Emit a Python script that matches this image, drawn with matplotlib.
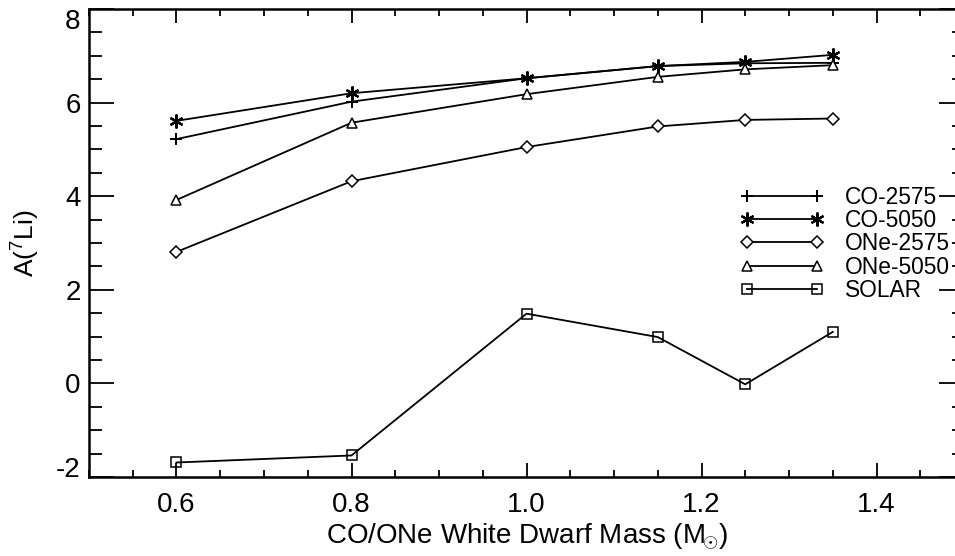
import numpy as np
import matplotlib
matplotlib.use('Agg')
import matplotlib.pyplot as plt
from matplotlib.ticker import MultipleLocator

plt.rcParams['font.family'] = ['Liberation Sans', 'DejaVu Sans']
plt.rcParams['mathtext.fontset'] = 'custom'
plt.rcParams['mathtext.rm'] = 'Liberation Sans'

# white dwarf masses
mass = [0.6, 0.8, 1.0, 1.15, 1.25, 1.35]

# A(7Li) for each model
co_2575 = [5.22, 6.02, 6.52, 6.78, 6.84, 6.85]
co_5050 = [5.61, 6.20, 6.52, 6.78, 6.87, 7.02]
one_2575 = [2.81, 4.32, 5.05, 5.49, 5.63, 5.66]
one_5050 = [3.92, 5.57, 6.18, 6.55, 6.71, 6.80]
solar = [-1.69, -1.54, 1.49, 0.99, -0.02, 1.10]

labels = ['CO-2575', 'CO-5050', 'ONe-2575', 'ONe-5050', 'SOLAR']

W, H = 955, 556
fig = plt.figure(figsize=(W/100, H/100), dpi=100)
# axes box runs past the right edge of the picture (as in the original)
ax = fig.add_axes([89/W, 1-477/H, 875/W, 468/H])

lw = 1.3
ms = 7
ax.plot(mass, co_2575, color='k', lw=lw, marker='+', ms=ms+2, mew=1.4, label=labels[0])
ax.plot(mass, co_5050, color='k', lw=lw, marker=(6, 2, 0), ms=ms+3, mew=1.6, label=labels[1])
ax.plot(mass, one_2575, color='k', lw=lw, marker='D', ms=ms-1, mfc='white', mew=1.1, label=labels[2])
ax.plot(mass, one_5050, color='k', lw=lw, marker='^', ms=ms, mfc='white', mew=1.1, label=labels[3])
ax.plot(mass, solar, color='k', lw=lw, marker='s', ms=ms, mfc='none', mew=1.1, label=labels[4])

ax.set_xlim(0.5, 1.5)
ax.set_ylim(-2, 8)
ax.xaxis.set_minor_locator(MultipleLocator(0.05))
ax.yaxis.set_minor_locator(MultipleLocator(0.5))
ax.set_xticks([0.6, 0.8, 1.0, 1.2, 1.4])
ax.set_xticklabels(['0.6', '0.8', '1.0', '1.2', '1.4'])
ax.set_yticks([-2, 0, 2, 4, 6, 8])
ax.set_yticklabels(['-2', '0', '2', '4', '6', '8'])

ax.tick_params(which='both', direction='in', top=True, right=True, color='k', labelsize=20)
ax.tick_params(axis='y', which='major', length=18, width=1.3, pad=6)
ax.tick_params(axis='y', which='minor', length=9, width=1.3)
ax.tick_params(axis='x', which='major', length=10, width=1.3, pad=11)
ax.tick_params(axis='x', which='minor', length=5, width=1.3)
for s in ax.spines.values():
    s.set_linewidth(1.8)
ax.spines['right'].set_visible(False)

# keep the end labels inside the box like IDL does
ylabs = ax.get_yticklabels()
ylabs[0].set_va('baseline')
ylabs[-1].set_va('top')

ax.set_xlabel(r'CO/ONe White Dwarf Mass (M$_{\!{\odot}}$)', fontsize=20, labelpad=2)
ax.set_ylabel(r'A($^7$Li)', fontsize=19, labelpad=11)

leg = ax.legend(loc='upper left', bbox_to_anchor=((740-89)/875, (477-186)/468),
                frameon=False, fontsize=16.4, numpoints=2, handlelength=3.7,
                handletextpad=0.92, labelspacing=0.01, borderpad=0, borderaxespad=0)

fig.savefig('out.png', dpi=100)
